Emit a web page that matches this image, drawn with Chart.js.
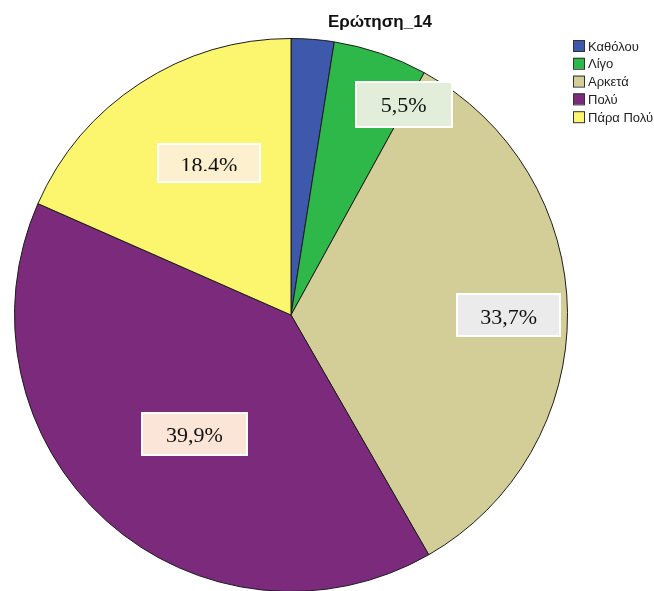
<!DOCTYPE html>
<html><head><meta charset="utf-8">
<script src="https://cdn.jsdelivr.net/npm/chart.js@4.4.1/dist/chart.umd.min.js"></script>
<style>html,body{margin:0;padding:0;background:#fff;overflow:hidden;width:654px;height:591px}canvas{display:block}</style>
</head><body>
<canvas id="c" width="654" height="600"></canvas>
<script>
const titleText = 'Ερώτηση_14';
const categories = ['Καθόλου', 'Λίγο', 'Αρκετά', 'Πολύ', 'Πάρα Πολύ'];
const percentages = [2.5, 5.5, 33.7, 39.9, 18.4];
const percentLabels = [null, '5,5%', '33,7%', '39,9%', '18.4%'];
const sliceColors = ['#3e58ac', '#2eb84a', '#d3ce97', '#7b2a7c', '#fbf66e'];

// label box styling (position as fraction of radius along slice, angle nudge in degrees)
const labelStyle = [
  null,
  {frac: 0.863, dAng: 9.3, w: 98, h: 47, fill: '#e2eed9', clip: null, dy: 2},
  {frac: 0.787, dAng: 0.5, w: 105, h: 44, fill: '#ebebeb', clip: null, dy: 3},
  {frac: 0.554, dAng: -2.8, w: 107, h: 44, fill: '#fbe5d6', clip: null, dy: 2},
  {frac: 0.625, dAng: 4.8, w: 104, h: 40, fill: '#fdf0cf', clip: 12, dy: 3}
];

const overlay = {
  id: 'overlay',
  afterDatasetsDraw(chart) {
    const ctx = chart.ctx;
    const meta = chart.getDatasetMeta(0);
    meta.data.forEach((arc, i) => {
      const st = labelStyle[i];
      if (!st || !percentLabels[i]) return;
      const p = arc.getProps(['startAngle', 'endAngle', 'outerRadius', 'x', 'y'], true);
      const mid = (p.startAngle + p.endAngle) / 2 + st.dAng * Math.PI / 180;
      const r = st.frac * p.outerRadius;
      const cx = p.x + Math.cos(mid) * r;
      const cy = p.y + Math.sin(mid) * r;
      const x0 = Math.round(cx - st.w / 2), y0 = Math.round(cy - st.h / 2);
      ctx.save();
      ctx.fillStyle = st.fill;
      ctx.fillRect(x0, y0, st.w, st.h);
      ctx.strokeStyle = '#ffffff';
      ctx.lineWidth = 2;
      ctx.strokeRect(x0 + 1, y0 + 1, st.w - 2, st.h - 2);
      if (st.clip) {
        ctx.beginPath();
        ctx.rect(x0, y0, st.w, st.h - st.clip);
        ctx.clip();
      }
      ctx.fillStyle = '#111';
      ctx.font = '22px "Liberation Serif", "Times New Roman", serif';
      ctx.textAlign = 'center';
      ctx.textBaseline = 'middle';
      ctx.fillText(percentLabels[i], cx, cy + st.dy);
      ctx.restore();
    });
    // title
    ctx.save();
    ctx.fillStyle = '#111';
    ctx.font = 'bold 17px "Liberation Sans", Arial, sans-serif';
    ctx.textAlign = 'center';
    ctx.textBaseline = 'middle';
    ctx.fillText(titleText, 380, 22);
    // legend
    ctx.font = '13px "Liberation Sans", Arial, sans-serif';
    ctx.textAlign = 'left';
    categories.forEach((c, i) => {
      const y = 46 + i * 17.8;
      ctx.fillStyle = sliceColors[i];
      ctx.fillRect(573.5, y - 6, 11, 11);
      ctx.strokeStyle = '#333';
      ctx.lineWidth = 1;
      ctx.strokeRect(573.5, y - 5.5, 11, 11);
      ctx.fillStyle = '#222';
      ctx.fillText(c, 588, y + 1);
    });
    ctx.restore();
  }
};

new Chart(document.getElementById('c'), {
  type: 'pie',
  data: {
    labels: categories,
    datasets: [{
      data: percentages,
      backgroundColor: sliceColors,
      borderColor: '#1c1c1c',
      borderWidth: 1
    }]
  },
  options: {
    responsive: false,
    devicePixelRatio: 1,
    animation: false,
    layout: {padding: {left: 14, right: 86, top: 38, bottom: 8}},
    plugins: {legend: {display: false}, tooltip: {enabled: false}, title: {display: false}}
  },
  plugins: [overlay]
});
</script>
</body></html>
